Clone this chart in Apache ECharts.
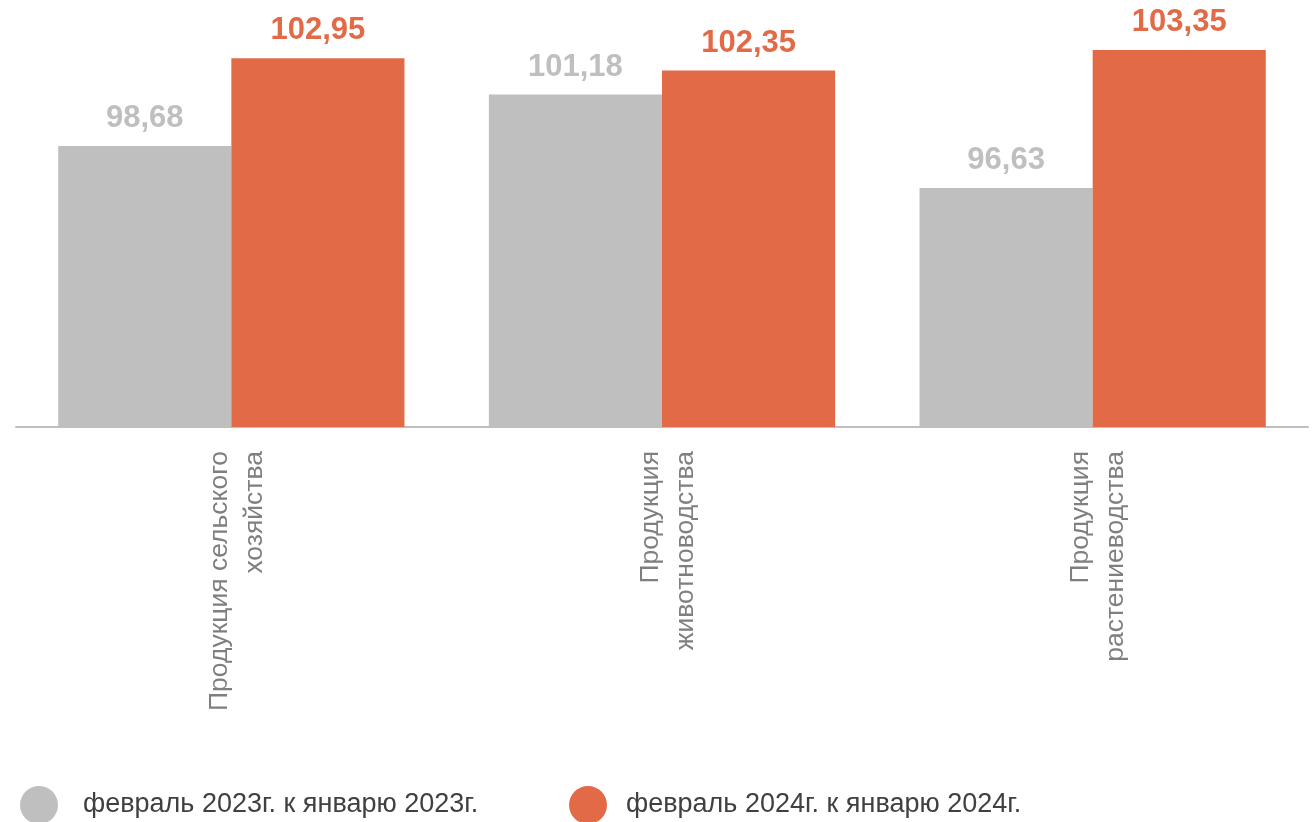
<!DOCTYPE html>
<html>
<head>
<meta charset="utf-8">
<script src="https://cdn.jsdelivr.net/npm/echarts@6/dist/echarts.min.js"></script>
<style>
html,body{margin:0;padding:0;background:#fff;}
#c{width:1312px;height:822px;}
</style>
</head>
<body>
<div id="c"></div>
<script>
const categories = ['Продукция сельского\nхозяйства', 'Продукция\nживотноводства', 'Продукция\nрастениеводства'];
const series2023 = [98.68, 101.18, 96.63];
const series2024 = [102.95, 102.35, 103.35];
const seriesNames = ['февраль 2023г. к январю 2023г.', 'февраль 2024г. к январю 2024г.'];

const GREY = '#BFBFBF';
const ORANGE = '#E36A47';
const FONT = '"Liberation Sans", Arial, sans-serif';
const fmt = p => p.value.toFixed(2).replace('.', ',');

const chart = echarts.init(document.getElementById('c'));
chart.setOption({
  animation: false,
  grid: {left: 16, right: 4, top: 16, bottom: 395, containLabel: false},
  legend: [
    {data: [seriesNames[0]], left: 20, top: 786, padding: 0, icon: 'circle', itemWidth: 38, itemHeight: 38,
     textStyle: {fontSize: 27, color: '#404040', fontFamily: FONT, padding: [0, 0, 0, 20]}},
    {data: [seriesNames[1]], left: 569, top: 786, padding: 0, icon: 'circle', itemWidth: 38, itemHeight: 38,
     textStyle: {fontSize: 27, color: '#404040', fontFamily: FONT, padding: [0, 0, 0, 14]}}
  ],
  xAxis: {
    type: 'category',
    data: categories,
    axisLine: {lineStyle: {color: GREY, width: 2}},
    axisTick: {show: false},
    axisLabel: {rotate: 90, margin: 24, fontSize: 26.5, lineHeight: 35, color: '#7F7F7F', fontFamily: FONT, interval: 0,
                formatter: v => '{s| }\n' + v.split('\n').map(l => '{t|' + l + '}').join('\n'),
                rich: {
                  s: {fontSize: 1, lineHeight: 12},
                  t: {fontSize: 26.5, lineHeight: 35, color: '#7F7F7F', fontFamily: FONT}
                }}
  },
  yAxis: {type: 'value', min: 85, max: 105, show: false, splitLine: {show: false}},
  series: [
    {name: seriesNames[0], type: 'bar', data: series2023, barGap: '0%', barCategoryGap: '19.6%',
     itemStyle: {color: GREY},
     label: {show: true, position: 'top', distance: 12, formatter: fmt, fontSize: 31, fontWeight: 'bold', color: GREY, fontFamily: FONT}},
    {name: seriesNames[1], type: 'bar', data: series2024, barGap: '0%', barCategoryGap: '19.6%',
     itemStyle: {color: ORANGE},
     label: {show: true, position: 'top', distance: 12, formatter: fmt, fontSize: 31, fontWeight: 'bold', color: ORANGE, fontFamily: FONT}}
  ]
});
</script>
</body>
</html>
